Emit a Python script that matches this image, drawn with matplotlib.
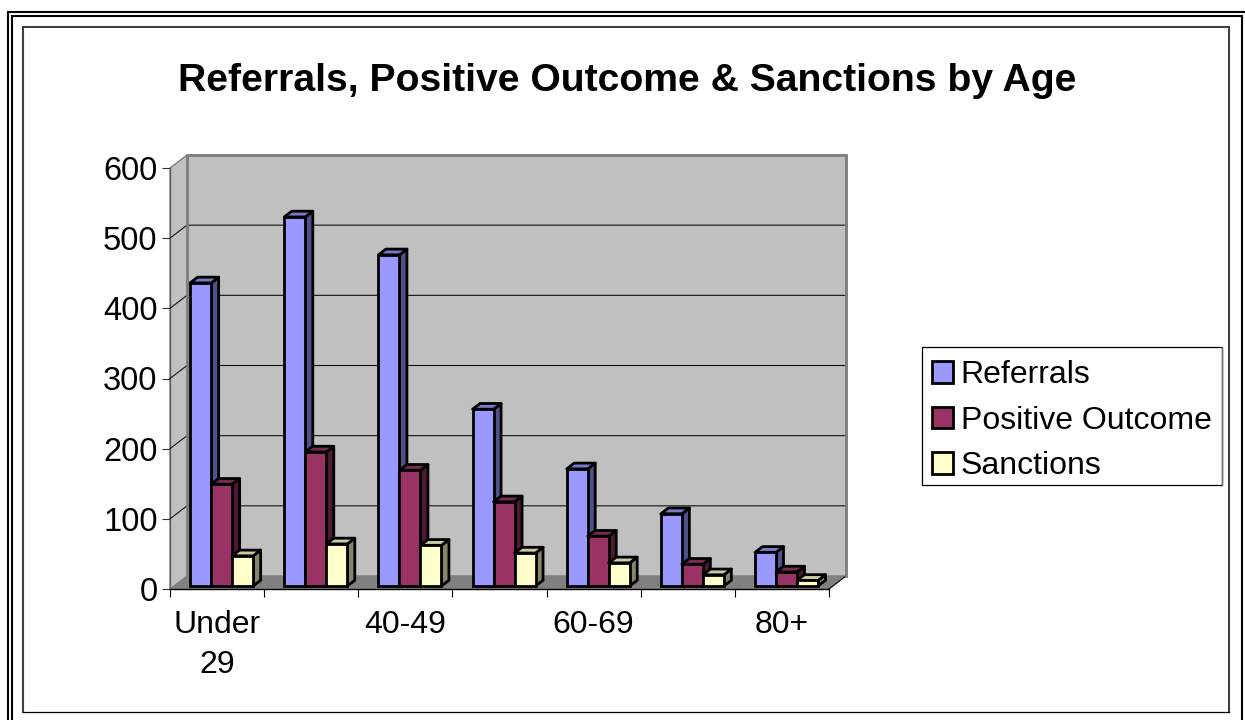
import matplotlib
matplotlib.use("Agg")
import matplotlib.pyplot as plt
from matplotlib.patches import Patch, Polygon, Rectangle
import numpy as np

plt.rcParams["font.family"] = ["Liberation Sans", "DejaVu Sans"]

# data
age_groups = ["Under\n29", "", "40-49", "", "60-69", "", "80+"]
referrals = [432, 526, 472, 252, 167, 103, 48]
positive_outcome = [145, 191, 165, 120, 71, 31, 20]
sanctions = [43, 60, 58, 47, 33, 16, 8]
y_ticks = [0, 100, 200, 300, 400, 500, 600]
series_names = ["Referrals", "Positive Outcome", "Sanctions"]

# face colours: front, side, top
front_colors = ["#9999ff", "#993366", "#ffffcc"]
side_colors = ["#50508a", "#4d1933", "#85856a"]
top_colors = ["#7a7acc", "#7a2952", "#cccca3"]

W, H = 1245, 720
fig = plt.figure(figsize=(W / 100, H / 100), dpi=100, facecolor="white")

# page frame, drawn in pixels
bg = fig.add_axes([0, 0, 1, 1], zorder=0)
bg.set_xlim(0, W)
bg.set_ylim(H, 0)
bg.axis("off")
bg.plot([8, 8, 1245], [720, 12, 12], color="black", lw=1.5, solid_joinstyle="miter", solid_capstyle="butt")
bg.plot([12, 12, 1242, 1242], [720, 16, 16, 720], color="black", lw=1.5, solid_joinstyle="miter", solid_capstyle="butt")
bg.plot([23, 23, 1229, 1229], [712, 27, 27, 712], color="#404040", lw=1.5, solid_joinstyle="miter")
bg.plot([23, 1229], [712, 712], color="black", lw=0.9)

# legend box
bg.add_patch(Rectangle((922, 347), 300, 138, fc="white", ec="black", lw=0.9))
bg.plot([1222, 1222], [347, 485], color="#707070", lw=1.0)

# front plane of the 3d box
ax = fig.add_axes([170 / W, (H - 589) / H, 659 / W, 421 / H], zorder=1)
ax.set_xlim(0, 7)
ax.set_ylim(0, 600)
ax.patch.set_visible(False)

# shift of the back wall relative to the front plane, in data units
depth_x = 17 / (659 / 7)
depth_y = 13 / (421 / 600)

wall = "#c0c0c0"
edge = "#808080"

# back wall, side wall, floor
ax.add_patch(Polygon([(depth_x, depth_y), (7 + depth_x, depth_y), (7 + depth_x, 600 + depth_y),
                      (depth_x, 600 + depth_y)], fc=wall, ec=edge, lw=1.8, clip_on=False, zorder=1))
ax.add_patch(Polygon([(0, 0), (depth_x, depth_y), (depth_x, 600 + depth_y), (0, 600)],
                     fc=wall, ec=edge, lw=1.0, clip_on=False, zorder=1))
ax.add_patch(Polygon([(0, 0), (7, 0), (7 + depth_x, depth_y), (depth_x, depth_y)],
                     fc=edge, ec="none", clip_on=False, zorder=2))
ax.plot([7, 7 + depth_x], [0, depth_y], color="black", lw=0.8, clip_on=False, zorder=2)
# redraw the top and side edges of the back wall so they sit above the grid
ax.plot([depth_x, depth_x, 7 + depth_x, 7 + depth_x], [depth_y, 600 + depth_y, 600 + depth_y, depth_y],
        color=edge, lw=2.0, clip_on=False, zorder=4)

for v in y_ticks[1:-1]:
    ax.plot([0, depth_x, 7 + depth_x], [v, v + depth_y, v + depth_y], color="#111111", lw=0.8,
            clip_on=False, zorder=3)

# bars, left to right so each one covers the side of the one before
bar_w = 21 / (659 / 7)
front, back = 0.27, 0.71
bar_lw = 2.0
z = 5
all_series = [referrals, positive_outcome, sanctions]
for i in range(len(age_groups)):
    for s, values in enumerate(all_series):
        v = values[i]
        x0 = i + 0.5 + (s - 1.5) * bar_w + front * depth_x
        x1 = x0 + bar_w
        y0 = 0.23 * depth_y
        y1 = v + y0
        dx = (back - front) * depth_x
        dy = (back - front) * depth_y
        ax.add_patch(Polygon([(x1, y0), (x1 + dx, y0 + dy), (x1 + dx, y1 + dy), (x1, y1)],
                             fc=side_colors[s], ec="black", lw=bar_lw, joinstyle="round", clip_on=False, zorder=z))
        ax.add_patch(Polygon([(x0, y1), (x1, y1), (x1 + dx, y1 + dy), (x0 + dx, y1 + dy)],
                             fc=top_colors[s], ec="black", lw=bar_lw, joinstyle="round", clip_on=False, zorder=z))
        ax.bar(x0, v, bar_w, bottom=y0, align="edge", color=front_colors[s], ec="black", lw=bar_lw,
               clip_on=False, zorder=z + 0.5)
        z += 1

# axes
for name in ["top", "right"]:
    ax.spines[name].set_visible(False)
ax.spines["left"].set_color("#606060")
ax.spines["left"].set_linewidth(1.0)
ax.spines["bottom"].set_color("black")
ax.spines["bottom"].set_linewidth(1.0)
ax.spines["bottom"].set_zorder(200)

ax.set_yticks(y_ticks)
ax.tick_params(axis="y", labelsize=23.5, length=6, width=0.8, color="#333333", pad=3)
ax.set_xticks(np.arange(8))
ax.set_xticklabels([])
ax.tick_params(axis="x", which="major", length=6, width=0.8, color="black")
ax.set_xticks(np.arange(7) + 0.5, minor=True)
ax.set_xticklabels(age_groups, minor=True, fontsize=23, linespacing=1.45)
ax.tick_params(axis="x", which="minor", length=0, pad=15)

fig.text(627 / W, 1 - 81 / H, "Referrals, Positive Outcome & Sanctions by Age", fontsize=28.2,
         fontweight="bold", ha="center", va="center")

# legend entries, the box itself is drawn above
handles = [Patch(fc=c, ec="black", lw=2.0) for c in front_colors]
leg = fig.legend(handles, series_names, loc="upper left", bbox_to_anchor=(932 / W, 1 - 360 / H),
                 fontsize=23, frameon=False,
                 handlelength=0.66, handleheight=0.66, handletextpad=0.24,
                 labelspacing=0.487, borderpad=0, borderaxespad=0)

fig.savefig("out.png", dpi=100)
